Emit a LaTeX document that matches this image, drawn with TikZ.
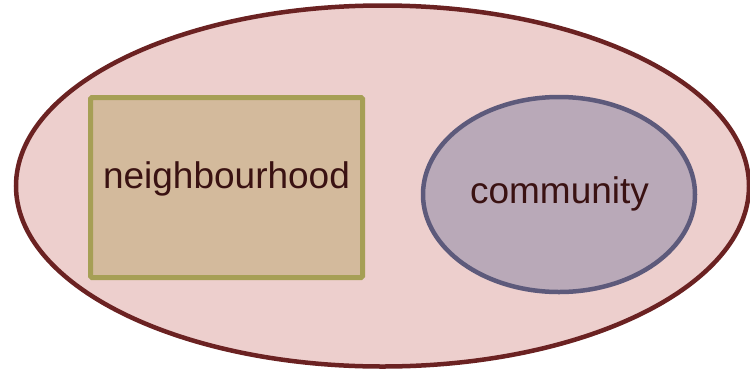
\documentclass[tikz,border=0pt]{standalone}
\usepackage{fontspec}
\setmainfont{Liberation Sans}
\definecolor{outerfill}{HTML}{EDCFCD}
\definecolor{outerline}{HTML}{6B2222}
\definecolor{boxfill}{HTML}{D3BA9C}
\definecolor{boxline}{HTML}{A69F55}
\definecolor{commfill}{HTML}{B9A9B8}
\definecolor{commline}{HTML}{5D5A7B}
\definecolor{labeltext}{HTML}{3A1212}
\begin{document}
\begin{tikzpicture}[x=1bp,y=-1bp,
  labelstyle/.style={text=labeltext,font=\fontsize{37bp}{44bp}\selectfont,anchor=base,inner sep=0pt}]
  \useasboundingbox (0,0) rectangle (750,370);
  % outer region
  \draw[fill=outerfill,draw=outerline,line width=4.5bp] (382.5,186) ellipse [x radius=366.5,y radius=180.5];
  % neighbourhood box
  \draw[fill=boxfill,draw=boxline,line width=5bp,rounded corners=1.5bp] (90.5,97.5) rectangle (362.5,277.5);
  % community ellipse
  \draw[fill=commfill,draw=commline,line width=4.5bp] (559,194.5) ellipse [x radius=136,y radius=97.5];
  \node[labelstyle] (nb) at (226.5,188) {neighbourhood};
  \node[labelstyle] (cm) at (559.5,203) {community};
\end{tikzpicture}
\end{document}
